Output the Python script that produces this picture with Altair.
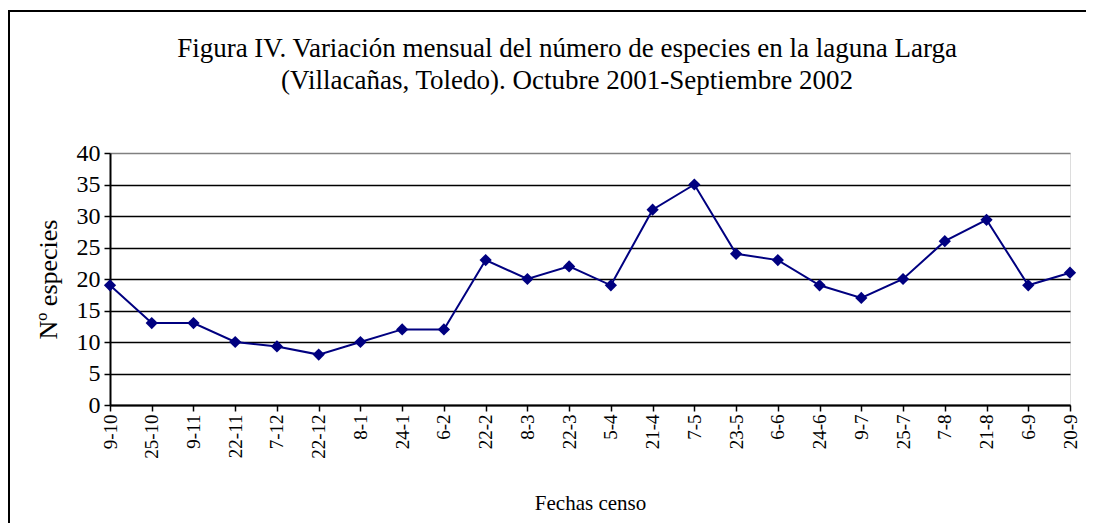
import altair as alt
import pandas as pd

fechas = ["9-10", "25-10", "9-11", "22-11", "7-12", "22-12", "8-1", "24-1", "6-2",
          "22-2", "8-3", "22-3", "5-4", "21-4", "7-5", "23-5", "6-6", "24-6", "9-7",
          "25-7", "7-8", "21-8", "6-9", "20-9"]
especies = [19, 13, 13, 10, 9.3, 8, 10, 12, 12, 23, 20, 22, 19, 31, 35, 24, 23, 19, 17,
            20, 26, 29.4, 19, 21]
y_ticks = [0, 5, 10, 15, 20, 25, 30, 35, 40]

titulo = ["Figura IV. Variación mensual del número de especies en la laguna Larga",
          "(Villacañas, Toledo). Octubre 2001-Septiembre 2002"]

df = pd.DataFrame({"fecha": fechas, "n": especies})
FONT = "Liberation Serif"
NAVY = "#000080"

base = alt.Chart(df).encode(
    x=alt.X("fecha:N", sort=fechas,
            scale=alt.Scale(type="point", padding=0),
            axis=alt.Axis(title="Fechas censo", labelAngle=270, labelAlign="right",
                          labelBaseline="middle", labelFontSize=19, labelPadding=3,
                          labelOverlap=False, tickSize=6, tickColor="black", tickWidth=1.5,
                          domainColor="black", domainWidth=2, grid=False,
                          titleFontSize=21, titleFontWeight="normal", titlePadding=34,
                          labelFont=FONT, titleFont=FONT, labelColor="black", titleColor="black")),
    y=alt.Y("n:Q",
            scale=alt.Scale(domain=[0, 40], nice=False, zero=True),
            axis=alt.Axis(values=y_ticks, title="Nº especies", grid=True,
                          gridColor={"condition": {"test": "datum.value === 40", "value": "#808080"},
                                     "value": "black"},
                          gridWidth=1.5, tickSize=6, tickColor="black", tickWidth=1.5,
                          domainColor="black", domainWidth=2,
                          labelFontSize=24, labelPadding=4, labelFont=FONT, labelColor="black",
                          titleFontSize=26, titleFontWeight="normal", titlePadding=15,
                          titleFont=FONT, titleColor="black")),
)

line = base.mark_line(color=NAVY, strokeWidth=2)
pts = base.mark_point(shape="diamond", filled=True, size=150, color=NAVY, opacity=1)

one = pd.DataFrame({"k": [0]})
frame = alt.Chart(one).mark_rect(
    filled=False, color="black", strokeWidth=2, clip=False
).encode(x=alt.value(-101), x2=alt.value(1100), y=alt.value(-142), y2=alt.value(600))

t1 = alt.Chart(one).mark_text(
    text=titulo[0], font=FONT, fontSize=27, color="black", align="center",
    baseline="alphabetic", clip=False
).encode(x=alt.value(457), y=alt.value(-96))
t2 = alt.Chart(one).mark_text(
    text=titulo[1], font=FONT, fontSize=27, color="black", align="center",
    baseline="alphabetic", clip=False
).encode(x=alt.value(457), y=alt.value(-64))

chart = alt.layer(frame, t1, t2, line, pts).properties(
    width=960, height=252,
    autosize=alt.AutoSizeParams(type="none"),
    padding={"left": 102, "top": 145, "right": 16, "bottom": 118},
).configure_view(stroke="#808080", strokeWidth=1.5).configure(background="white")

chart.save("out.html", embed_options={"renderer": "svg", "actions": False})
